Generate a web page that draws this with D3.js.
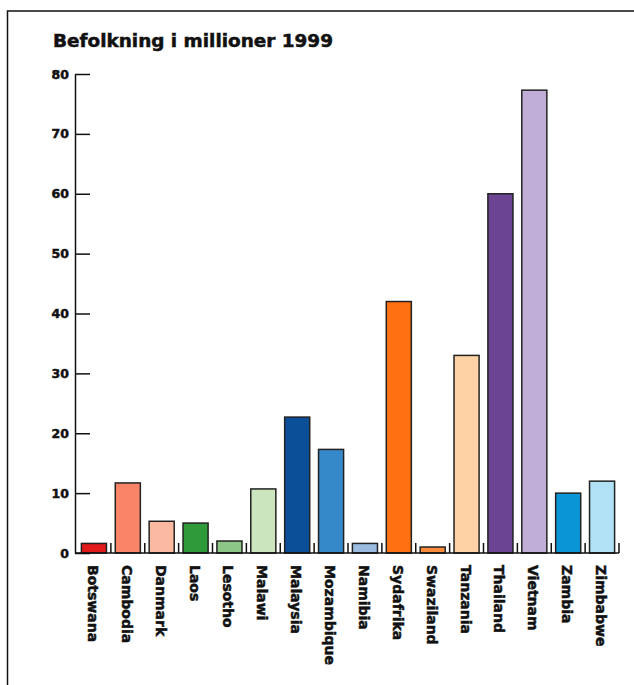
<html>
<head>
    <script src="https://d3js.org/d3.v7.min.js"></script>
</head>
<body style="margin:0">
    <svg id="befolkning" width="634" height="685"></svg>
</body>
<style>
    text{font-family: "DejaVu Sans", Arial; font-weight: bold; stroke: #111; stroke-width: 0.5px}
</style>
<script>

    // data (millions, 1999)
    const countries = ['Botswana','Cambodia','Danmark','Laos','Lesotho','Malawi','Malaysia','Mozambique',
                       'Namibia','Sydafrika','Swaziland','Tanzania','Thailand','Vietnam','Zambia','Zimbabwe']
    const population = [1.6, 11.7, 5.3, 5.0, 2.0, 10.7, 22.7, 17.3,
                        1.6, 42.0, 1.0, 33.0, 60.0, 77.3, 10.0, 12.0]
    const barColors = ['#e31a1c','#f98468','#fcb9a2','#2e9a3a','#8cc788','#cbe6bf','#0b4f99','#3689c9',
                       '#9cbbe0','#ff7012','#fc8b3c','#ffd2a6','#6b4592','#c0aed6','#0a96d6','#b0e1f5']
    const yTicks = [0,10,20,30,40,50,60,70,80]
    const title = 'Befolkning i millioner 1999'

    let svg = d3.select('svg#befolkning')

    // frame (only top and left edges show inside the window)
    svg.append('rect')
       .attr('x',7.5).attr('y',11)
       .attr('width',800).attr('height',800)
       .attr('fill','none')
       .attr('stroke','#111')
       .attr('stroke-width',1.5)

    svg.append('text')
       .text(title)
       .attr('x',53)
       .attr('y',47)
       .attr('font-size','17px')
       .attr('textLength',280)
       .attr('lengthAdjust','spacingAndGlyphs')
       .attr('fill','#111')

    let x = d3.scaleBand()
              .domain(countries)
              .range([77,619])
              .paddingInner(0.26)
              .paddingOuter(0.13)

    let y = d3.scaleLinear()
              .domain([0,80])
              .range([553,74])

    // bars
    svg.selectAll('rect.bar')
       .data(countries)
       .join('rect')
       .attr('class','bar')
       .attr('x',d=>x(d))
       .attr('y',(d,i)=>y(population[i]))
       .attr('width',x.bandwidth())
       .attr('height',(d,i)=>y(0)-y(population[i]))
       .attr('fill',(d,i)=>barColors[i])
       .attr('stroke','#222')
       .attr('stroke-width',1.5)

    // y axis, ticks pointing inward
    const yAxis = d3.axisLeft(y)
                    .tickValues(yTicks)
                    .tickSize(-15)
                    .tickSizeOuter(0)
                    .tickPadding(6)
    let yg = svg.append('g')
                .attr('transform','translate(75,0)')
                .call(yAxis)
    yg.selectAll('path.domain').attr('stroke','#111').attr('stroke-width',1.5)
    yg.selectAll('line').attr('stroke','#111').attr('stroke-width',1.5)
    yg.selectAll('text').attr('font-size','12.5px').attr('fill','#111')
      .attr('font-family','"DejaVu Sans", Arial')

    // base line with small category separators
    svg.append('line')
       .attr('x1',75).attr('x2',619)
       .attr('y1',y(0)).attr('y2',y(0))
       .attr('stroke','#111')
       .attr('stroke-width',1.5)

    const step = x.step()
    svg.selectAll('line.sep')
       .data(countries)
       .join('line')
       .attr('class','sep')
       .attr('x1',d=>x(d)+x.bandwidth()+step*x.paddingInner()/2)
       .attr('x2',d=>x(d)+x.bandwidth()+step*x.paddingInner()/2)
       .attr('y1',y(0))
       .attr('y2',y(0)-10)
       .attr('stroke','#111')
       .attr('stroke-width',1.5)

    // category labels, rotated to read downward
    svg.selectAll('text.cat')
       .data(countries)
       .join('text')
       .attr('class','cat')
       .text(d=>d)
       .attr('font-size','14px')
       .attr('fill','#111')
       .attr('transform',d=>`translate(${x(d)+x.bandwidth()/2-6},565) rotate(90)`)

</script>
</html>
